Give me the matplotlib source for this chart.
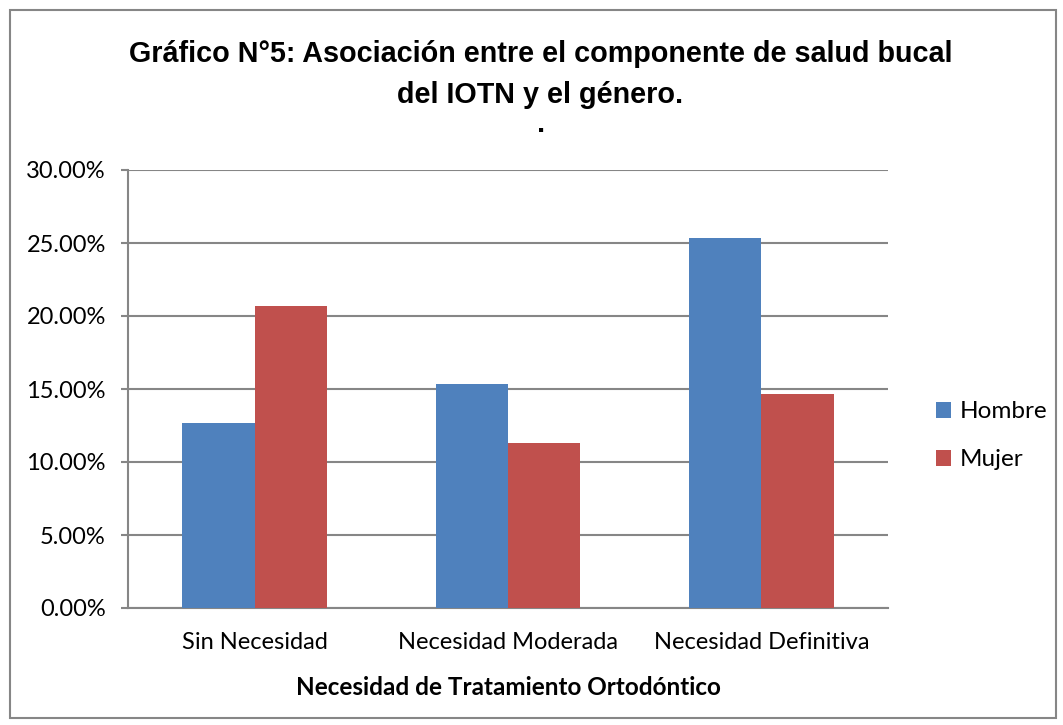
import matplotlib
matplotlib.use('Agg')
import matplotlib.pyplot as plt
from matplotlib.patches import Rectangle
import numpy as np

categories = ['Sin Necesidad', 'Necesidad Moderada', 'Necesidad Definitiva']
hombre = [12.67, 15.33, 25.33]
mujer = [20.67, 11.33, 14.67]
yticks = [0, 5, 10, 15, 20, 25, 30]

W, H = 1063, 725
dpi = 100
fig = plt.figure(figsize=(W / dpi, H / dpi), dpi=dpi)
fig.patch.set_facecolor('white')

# outer chart border
fig.add_artist(Rectangle((10 / W, 1 - 718 / H), 1046 / W, 708 / H,
                         transform=fig.transFigure, fill=False,
                         edgecolor='#868686', linewidth=1.5))

ax = fig.add_axes([128 / W, 1 - 608 / H, 760 / W, 438 / H])

x = np.arange(len(categories))
bw = 1 / 3.5
ax.bar(x - bw / 2, hombre, bw, color='#4F81BD', label='Hombre', zorder=3)
ax.bar(x + bw / 2, mujer, bw, color='#C0504D', label='Mujer', zorder=3)

ax.set_xlim(-0.5, 2.5)
ax.set_ylim(0, 30)
ax.set_yticks(yticks)
ax.set_yticklabels(['%.2f%%' % v for v in yticks], fontsize=17, family='Lato')
ax.set_xticks(x)
ax.set_xticklabels(categories, fontsize=17, family='Lato')
ax.yaxis.grid(True, color='#868686', linewidth=1.5, zorder=0)

for s in ['top', 'right']:
    ax.spines[s].set_visible(False)
for s in ['left', 'bottom']:
    ax.spines[s].set_color('#868686')
    ax.spines[s].set_linewidth(1.5)
ax.tick_params(axis='y', length=5, width=1.5, color='#868686', pad=11)
ax.tick_params(axis='x', length=0, pad=17)

ax.set_xlabel('Necesidad de Tratamiento Ortodóntico', fontsize=17.5,
              fontweight='bold', family='Lato', labelpad=17)

title_x = (128 + 953) / 2 / W
fig.text(title_x, 1 - 62 / H,
         'Gráfico N°5: Asociación entre el componente de salud bucal',
         ha='center', va='baseline', fontsize=20.7, fontweight='bold',
         family='Liberation Sans')
fig.text(title_x, 1 - 103 / H, 'del IOTN y el género.',
         ha='center', va='baseline', fontsize=20.7, fontweight='bold',
         family='Liberation Sans')
fig.text(541 / W, 1 - 132 / H, '.', ha='center', va='baseline',
         fontsize=20.7, fontweight='bold', family='Liberation Sans')

ax.legend(loc='center left', bbox_to_anchor=(1.05, 0.393), frameon=False,
          prop={'family': 'Lato', 'size': 17.5}, handlelength=0.62,
          handleheight=0.62, handletextpad=0.35, labelspacing=1.1,
          borderaxespad=0)

plt.savefig('out.png', dpi=dpi)
